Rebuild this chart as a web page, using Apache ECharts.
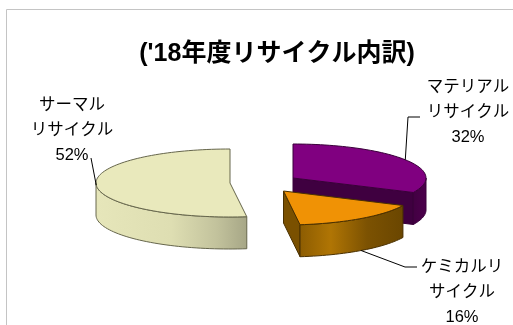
<!DOCTYPE html>
<html>
<head>
<meta charset="utf-8">
<style>html,body{margin:0;padding:0;background:#fff}#chart{width:513px;height:325px}</style>
<script src="https://cdn.jsdelivr.net/npm/echarts@6/dist/echarts.min.js"></script>
</head>
<body>
<div id="chart"></div>
<script>
// Recycling breakdown, clockwise from twelve o'clock
const categories = ['マテリアル\nリサイクル', 'ケミカルリ\nサイクル', 'サーマル\nリサイクル'];
const shares = [32, 16, 52];

// Slice palette
const topColors = ['#800080', '#f09205', '#e9e9bc'];
const edgeColors = ['#3a003a', '#4a3000', '#66664c'];
const cutColors = ['#3f0040', '#7a5000', '#a8a888'];
const wallStops = [
  [[0, '#420042'], [1, '#4c004c']],
  [[0, '#8c5c02'], [0.3, '#b07504'], [0.65, '#7c5202'], [1, '#6a4600']],
  [[0, '#e6e6ba'], [0.5, '#dedeb2'], [0.8, '#c2c29c'], [1, '#a6a686']]
];

// Projection of each slice: apex position, ellipse radii and wall height
const apex = [[293, 178], [283.5, 191], [230, 183]];
const radiusX = [133, 132, 134];
const radiusY = 34;
const depth = 32;

// Label block centres and leader-line bends
const labelAt = [[468, 112], [462, 292], [72, 130]];
const leaderBends = [[[408, 117], [420, 117]], [[405, 267], [417, 267]], [[91, 158]]];

const textFont = '"Liberation Sans", "Noto Sans CJK JP", sans-serif';
const total = shares.reduce((a, b) => a + b, 0);

function project(i, deg, drop) {
  const t = deg * Math.PI / 180;
  return [
    apex[i][0] + radiusX[i] * Math.sin(t),
    apex[i][1] - radiusY * Math.cos(t) + (drop || 0)
  ];
}

function arc(i, from, to, drop) {
  const pts = [];
  const steps = Math.max(2, Math.ceil(Math.abs(to - from) / 2));
  for (let k = 0; k <= steps; k++) pts.push(project(i, from + (to - from) * k / steps, drop));
  return pts;
}

function renderSlice(params, api) {
  const i = params.dataIndex;
  const before = shares.slice(0, i).reduce((a, b) => a + b, 0);
  const start = before / total * 360;
  const end = start + api.value(0) / total * 360;
  const children = [];
  const line = { stroke: edgeColors[i], lineWidth: 1 };

  // Cut faces that turn toward the viewer
  const apexTop = apex[i];
  const apexLow = [apexTop[0], apexTop[1] + depth];
  [[start, -1], [end, 1]].forEach(([deg, dir]) => {
    if (dir * Math.sin(deg * Math.PI / 180) > 0.001) {
      children.push({
        type: 'polygon',
        shape: { points: [apexTop, project(i, deg), project(i, deg, depth), apexLow] },
        style: Object.assign({ fill: cutColors[i] }, line)
      });
    }
  });

  // Outer wall: only the front half of the rim is visible
  const wallFrom = Math.max(start, 90);
  const wallTo = Math.min(end, 270);
  if (wallTo > wallFrom) {
    const upper = arc(i, wallFrom, wallTo, 0);
    const lower = arc(i, wallFrom, wallTo, depth).reverse();
    const stops = wallStops[i].map(s => ({ offset: s[0], color: s[1] }));
    children.push({
      type: 'polygon',
      shape: { points: upper.concat(lower) },
      style: Object.assign({ fill: new echarts.graphic.LinearGradient(0, 0, 1, 0, stops) }, line)
    });
  }

  // Top face
  children.push({
    type: 'polygon',
    shape: { points: [apexTop].concat(arc(i, start, end, 0)) },
    style: Object.assign({ fill: topColors[i] }, line)
  });

  // Leader line from the rim at the slice's middle angle
  const mid = (start + end) / 2;
  const anchor = project(i, mid, i === 1 ? depth : 0);
  children.push({
    type: 'polyline',
    shape: { points: [anchor].concat(leaderBends[i]) },
    style: { stroke: '#000', lineWidth: 1, fill: null }
  });

  // Category and share
  children.push({
    type: 'text',
    x: labelAt[i][0],
    y: labelAt[i][1],
    style: {
      text: categories[i] + '\n' + api.value(0) + '%',
      fill: '#000',
      font: '16.5px ' + textFont,
      lineHeight: 25,
      align: 'center',
      verticalAlign: 'middle'
    }
  });

  return { type: 'group', children };
}

const chart = echarts.init(document.getElementById('chart'), null, { renderer: 'canvas' });
chart.setOption({
  animation: false,
  backgroundColor: '#fff',
  title: {
    text: "('18年度リサイクル内訳)",
    left: 272,
    top: 37,
    textAlign: 'center',
    textStyle: { fontFamily: textFont, fontSize: 25, fontWeight: 'bold', color: '#000' }
  },
  graphic: [{
    type: 'rect',
    silent: true,
    z: -1,
    shape: { x: 6.5, y: 9.5, width: 600, height: 400 },
    style: { fill: '#fff', stroke: '#c4c4c4', lineWidth: 1 }
  }],
  series: [{
    type: 'custom',
    coordinateSystem: 'none',
    renderItem: renderSlice,
    data: shares.map(v => [v])
  }]
});
</script>
</body>
</html>
